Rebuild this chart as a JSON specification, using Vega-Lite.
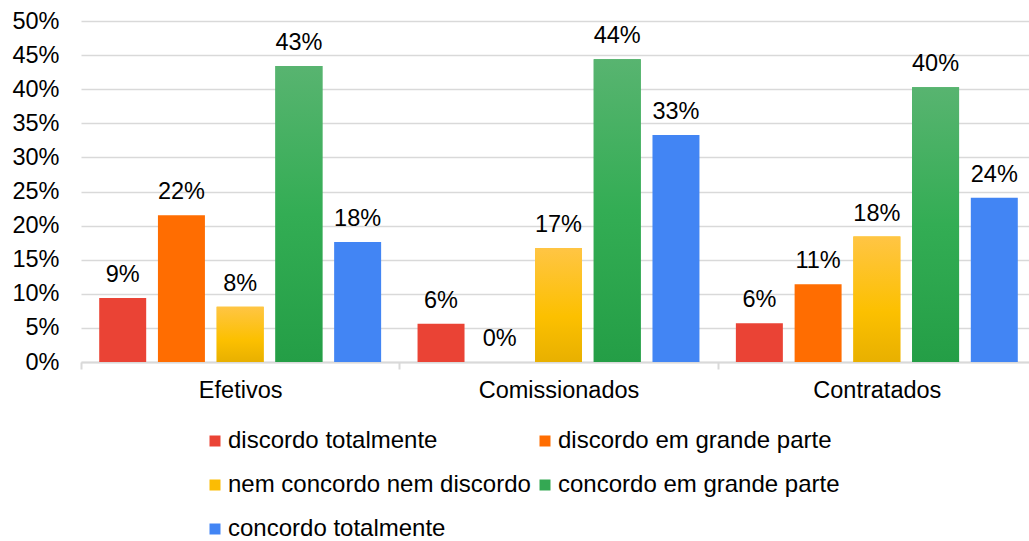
{
  "$schema": "https://vega.github.io/schema/vega-lite/v6.json",
  "autosize": "none",
  "width": 948,
  "height": 341,
  "padding": {"left": 81, "top": 21, "right": 0, "bottom": 179},
  "background": "white",
  "config": {
    "view": {"stroke": null},
    "font": "Liberation Sans",
    "axis": {"labelFont": "Liberation Sans", "labelColor": "#000000", "labelFontSize": 23.5}
  },
  "data": {
    "values": [
      {"grupo": "Efetivos", "resposta": "discordo totalmente", "valor": 0.094},
      {"grupo": "Efetivos", "resposta": "discordo em grande parte", "valor": 0.215},
      {"grupo": "Efetivos", "resposta": "nem concordo nem discordo", "valor": 0.081},
      {"grupo": "Efetivos", "resposta": "concordo em grande parte", "valor": 0.434},
      {"grupo": "Efetivos", "resposta": "concordo totalmente", "valor": 0.176},
      {"grupo": "Comissionados", "resposta": "discordo totalmente", "valor": 0.056},
      {"grupo": "Comissionados", "resposta": "discordo em grande parte", "valor": 0.0},
      {"grupo": "Comissionados", "resposta": "nem concordo nem discordo", "valor": 0.167},
      {"grupo": "Comissionados", "resposta": "concordo em grande parte", "valor": 0.444},
      {"grupo": "Comissionados", "resposta": "concordo totalmente", "valor": 0.333},
      {"grupo": "Contratados", "resposta": "discordo totalmente", "valor": 0.057},
      {"grupo": "Contratados", "resposta": "discordo em grande parte", "valor": 0.114},
      {"grupo": "Contratados", "resposta": "nem concordo nem discordo", "valor": 0.184},
      {"grupo": "Contratados", "resposta": "concordo em grande parte", "valor": 0.403},
      {"grupo": "Contratados", "resposta": "concordo totalmente", "valor": 0.241}
    ]
  },
  "encoding": {
    "x": {
      "field": "grupo", "type": "nominal", "sort": null, "title": null,
      "scale": {"range": [0, 955], "paddingInner": 0, "paddingOuter": 0},
      "axis": {"labelAngle": 0, "tickBand": "extent", "ticks": true, "tickSize": 7, "tickColor": "#d9d9d9", "tickWidth": 2, "domainColor": "#d9d9d9", "domainWidth": 2, "labelPadding": 9, "grid": false}
    },
    "xOffset": {
      "field": "resposta", "type": "nominal",
      "scale": {"domain": ["discordo totalmente", "discordo em grande parte", "nem concordo nem discordo", "concordo em grande parte", "concordo totalmente"], "paddingInner": 0.2, "paddingOuter": 0.31}
    },
    "y": {
      "field": "valor", "type": "quantitative", "title": null,
      "scale": {"domain": [0, 0.5], "nice": false},
      "axis": {"values": [0, 0.05, 0.1, 0.15, 0.2, 0.25, 0.3, 0.35, 0.4, 0.45, 0.5], "format": ".0%", "domain": false, "ticks": false, "labelPadding": 22, "gridColor": "#d9d9d9", "gridWidth": 1.5}
    }
  },
  "layer": [
    {
      "mark": {"type": "bar"},
      "encoding": {
        "color": {
          "field": "resposta", "type": "nominal", "title": null,
          "scale": {"domain": ["discordo totalmente", "discordo em grande parte", "nem concordo nem discordo", "concordo em grande parte", "concordo totalmente"], "range": ["#EA4335", "#FF6D01", "#FBBC04", "#34A853", "#4285F4"]},
          "legend": {"orient": "none", "legendX": 122, "legendY": 408, "direction": "horizontal", "columns": 2, "symbolType": "square", "symbolSize": 121, "symbolStrokeWidth": 0, "labelFontSize": 24, "labelFont": "Liberation Sans", "labelColor": "#000000", "rowPadding": 20, "columnPadding": 2, "labelOffset": 1, "padding": 0, "labelLimit": 400}
        }
      }
    },
    {
      "transform": [{"filter": "datum.resposta === 'nem concordo nem discordo'"}],
      "mark": {"type": "bar", "color": {"gradient": "linear", "x1": 0, "y1": 0, "x2": 0, "y2": 1, "stops": [{"offset": 0, "color": "#FFC544"}, {"offset": 0.6, "color": "#FCC000"}, {"offset": 1, "color": "#E8B000"}]}}
    },
    {
      "transform": [{"filter": "datum.resposta === 'concordo em grande parte'"}],
      "mark": {"type": "bar", "color": {"gradient": "linear", "x1": 0, "y1": 0, "x2": 0, "y2": 1, "stops": [{"offset": 0, "color": "#58B470"}, {"offset": 0.5, "color": "#33AD54"}, {"offset": 1, "color": "#249E46"}]}}
    },
    {
      "mark": {"type": "text", "baseline": "alphabetic", "dy": -16, "fontSize": 23.5, "color": "#000000", "font": "Liberation Sans"},
      "encoding": {"text": {"field": "valor", "type": "quantitative", "format": ".0%"}}
    }
  ]
}
